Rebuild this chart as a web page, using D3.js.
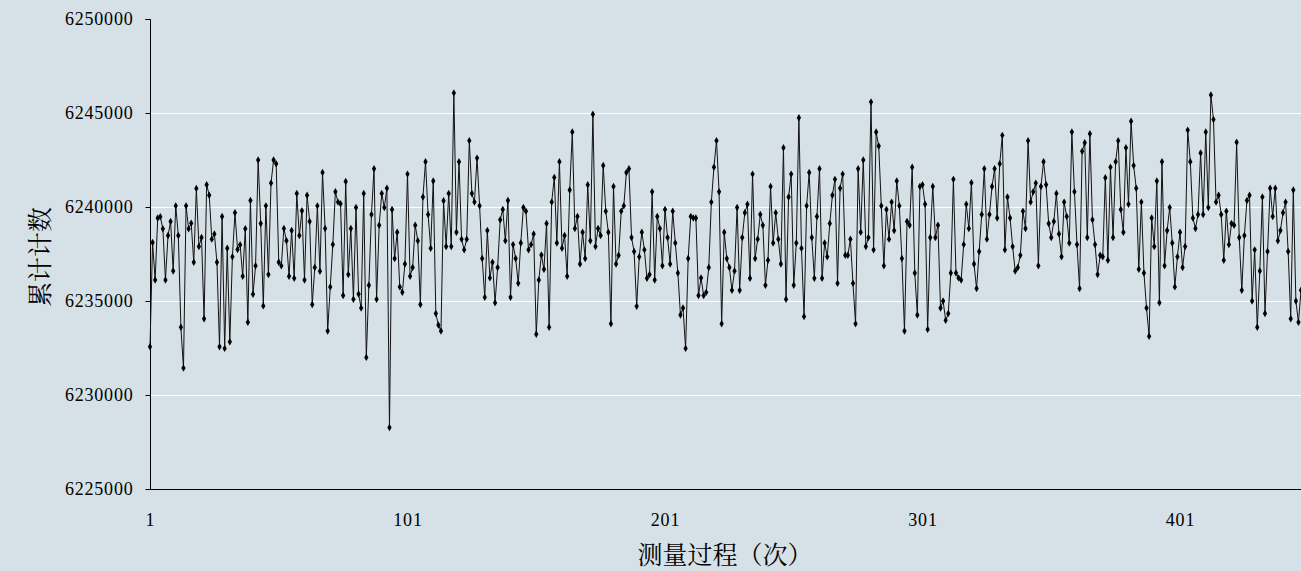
<!DOCTYPE html>
<html><head><meta charset="utf-8">
<script src="https://cdn.jsdelivr.net/npm/d3@7"></script>
<style>html,body{margin:0;padding:0;background:#d6e0e7;}svg{display:block;}</style>
</head><body>
<svg id="c" width="1301" height="571"></svg>
<script>
const xTickLabels = [1, 101, 201, 301, 401];
const yTicks = [6225000, 6230000, 6235000, 6240000, 6245000, 6250000];
const xTitle = "测量过程（次）";
const yTitle = "累计计数";
const counts = [
6232570,6238110,6236120,6239410,6239480,6238840,6236120,6238480,6239230,6236600,
6240060,6238480,6233600,6231430,6240060,6238840,6239140,6237060,6240990,6237900,
6238380,6234060,6241180,6240630,6238290,6238570,6237060,6232570,6239490,6232480,
6237810,6232830,6237350,6239690,6237740,6237990,6236320,
6238840,6233870,6240350,6235360,6236870,6242500,6239120,6234740,6240060,6236410,
6241270,6242500,6242300,6237060,6236870,6238860,6238200,6236320,6238750,6236210,
6240720,6238480,6239800,6236120,6240630,6239230,6234810,6236780,6240060,6236580,
6241840,6238860,6233400,6235750,6238000,6240810,6240260,
6240170,6235290,6241360,6236410,6238860,6235090,6239970,6235370,6234630,6240720,
6232000,6235840,6239600,6242030,6235090,6239030,6240720,6239970,6241000,6228270,
6239870,6237260,6238660,6235750,6235460,6236970,6241750,6236320,6236780,6239030,
6238200,6234810,6240530,6242410,6239600,6237810,6241380,6234340,
6233720,6233400,6240330,6237900,6240720,6237900,6246070,6238660,6242410,6238290,
6237720,6238290,6243530,6240720,6240260,6242600,6240060,6237260,6235200,6238750,
6236230,6237060,6234910,6236780,6239320,6239870,6238200,6240350,6235200,6238000,
6237260,6235940,6238090,6239970,6239780,6237720,6238000,
6238570,6233230,6236120,6237450,6236690,6239120,6233600,6240260,6241570,6238090,
6242410,6237810,6238480,6236320,6240900,6243990,6238860,6239490,6236970,6238660,
6237260,6241180,6238200,6244930,6237900,6238860,6238480,6242210,6239780,6238660,
6233790,6241090,6236970,6237430,6239780,6240060,6241840,
6242030,6238380,6237630,6234720,6237350,6238660,6237720,6236210,6236410,6240810,
6236120,6239490,6238860,6236870,6239870,6238380,6236970,6239780,6238090,6236490,
6234260,6234630,6232480,6237260,6239490,6239410,6239410,6235290,6236230,6235290,
6235460,6236780,6240260,6242120,6243530,6240810,6233790,6238660,
6237260,6236780,6235570,6236600,6239970,6235570,6238380,6239690,6240150,6236210,
6241750,6237260,6238290,6239600,6239030,6235840,6237170,6241090,6238090,6239690,
6238290,6236970,6243150,6235090,6240530,6241750,6235840,6238090,6244750,6237810,
6234170,6240060,6241840,6238380,6236210,6239490,
6242030,6236210,6238090,6237350,6239120,6240630,6241470,6235940,6241000,6241750,
6237430,6237430,6238290,6235940,6233790,6242030,6238660,6242500,6237900,6238380,
6245590,6237720,6243990,6243240,6240060,6236870,6239870,6238290,6240260,6238750,
6241380,6240060,6237260,6233400,6239230,6239030,6242120,6236490,
6234260,6241090,6241180,6240150,6233490,6238380,6241090,6238380,6239030,6234630,
6235000,6233970,6234340,6236490,6241470,6236490,6236230,6236120,6238000,6240150,
6238860,6241290,6236970,6235660,6237630,6239600,6242030,6238290,6239600,6241090,
6242030,6239410,6242300,6243810,6237720,6240530,6239410,
6237900,6236600,6236780,6237430,6239780,6238860,6243530,6240260,6240810,6241270,
6236870,6241090,6242410,6241180,6239120,6238380,6239230,6240720,6238570,6237350,
6240260,6239490,6238090,6243990,6240810,6238000,6235660,6242960,6243420,6238380,
6243900,6239320,6238000,6236410,6237430,6237350,6241560,
6237170,6242120,6238380,6242410,6243530,6239870,6238660,6243150,6240150,6244560,
6242210,6241000,6236690,6240260,6236490,6234630,6233120,6239410,6237900,6241380,
6234910,6242410,6236870,6238750,6239970,6238090,6235750,6237350,6238660,6236780,
6237900,6244090,6242410,6239410,6238860,6239600,6242870,
6239600,6243990,6239970,6245960,6244650,6240260,6240630,6239600,6237170,6239780,
6238000,6239120,6239030,6243440,6238380,6235570,6238480,6240350,6240630,6235000,
6237720,6233600,6236600,6240530,6234340,6237630,6241000,6239490,6241000,6238200,
6238750,6239690,6240260,6237630,6234060,6240900,6235000,6233870,6235570
];

const W = 1301, H = 571;
const plot = {left: 150, top: 19, bottom: 489, right: 1301};
const svg = d3.select("#c");
svg.append("rect").attr("width", W).attr("height", H).attr("fill", "#d6e0e7");

const x = d3.scaleLinear().domain([xTickLabels[0], xTickLabels[xTickLabels.length - 1]]).range([150, 1180]);
const y = d3.scaleLinear().domain([yTicks[0], yTicks[yTicks.length - 1]]).range([plot.bottom, plot.top]);

// gridlines
svg.append("g").selectAll("line").data(yTicks.slice(1, -1)).join("line")
  .attr("x1", plot.left).attr("x2", plot.right)
  .attr("y1", d => y(d) + 0.5).attr("y2", d => y(d) + 0.5)
  .attr("stroke", "#ffffff").attr("stroke-width", 1);

// y axis
const yAxis = d3.axisLeft(y).tickValues(yTicks).tickSize(5).tickPadding(12).tickFormat(d3.format("d"));
const gy = svg.append("g").attr("transform", `translate(${plot.left + 0.5},0)`).call(yAxis);
gy.select(".domain").attr("stroke", "#000").attr("d", `M-5,${plot.top + 0.5}H0V${plot.bottom + 0.5}`);
gy.selectAll(".tick line").attr("stroke", "#000");
gy.selectAll("text").attr("font-family", "'Liberation Serif', 'DejaVu Serif', serif").attr("font-size", 18)
  .attr("letter-spacing", "0.8px").attr("fill", "#000");

// x axis
const xAxis = d3.axisBottom(x).tickValues(xTickLabels).tickSize(0).tickPadding(24).tickFormat(d3.format("d"));
const gx = svg.append("g").attr("transform", `translate(0,${plot.bottom + 0.5})`).call(xAxis);
gx.select(".domain").attr("stroke", "#000").attr("d", `M${plot.left},0H${plot.right}`);
gx.selectAll("text").attr("font-family", "'Liberation Serif', 'DejaVu Serif', serif").attr("font-size", 18)
  .attr("letter-spacing", "0.8px").attr("fill", "#000");

// clip
svg.append("clipPath").attr("id", "clip").append("rect")
  .attr("x", plot.left - 4).attr("y", 0).attr("width", plot.right - plot.left + 4).attr("height", plot.bottom + 4);

const g = svg.append("g").attr("clip-path", "url(#clip)");
const line = d3.line().x((d, i) => x(i + 1)).y(d => y(d));
g.append("path").datum(counts).attr("d", line)
  .attr("fill", "none").attr("stroke", "#111").attr("stroke-width", 1);
g.append("g").selectAll("path").data(counts).join("path")
  .attr("transform", (d, i) => `translate(${x(i + 1)},${y(d)})`)
  .attr("d", d3.symbol().type(d3.symbolDiamond).size(16))
  .attr("fill", "#000");

// titles
svg.append("text").attr("x", 725).attr("y", 564).attr("text-anchor", "middle")
  .attr("font-family", "'Noto Serif CJK SC','Noto Sans CJK SC', sans-serif").attr("font-size", 25).attr("fill", "#000").text(xTitle);
svg.append("text").attr("transform", "translate(49,257) rotate(-90)").attr("text-anchor", "middle")
  .attr("font-family", "'Noto Serif CJK SC','Noto Sans CJK SC', sans-serif").attr("font-size", 25).attr("fill", "#000").text(yTitle);
</script>
</body></html>
